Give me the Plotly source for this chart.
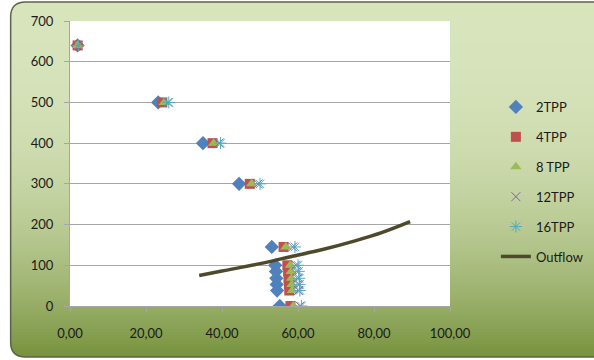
import plotly.graph_objects as go

# ---------------- data ----------------
depth = [640, 500, 400, 300, 145, 100, 85, 68, 53, 38, 0]
tpp2_x = [2.0, 23.2, 35.0, 44.5, 53.1, 54.0, 54.2, 54.3, 54.4, 54.5, 55.2]
tpp4_x = [2.0, 24.3, 37.5, 47.3, 56.2, 57.2, 57.4, 57.5, 57.6, 57.7, 58.0]
tpp8_x = [2.0, 24.8, 37.8, 47.8, 56.8, 58.0, 58.2, 58.3, 58.4, 58.5, 58.8]
tpp12_x = [2.2, 25.8, 39.2, 49.5, 58.6, 59.5, 59.7, 59.9, 60.0, 60.1, 60.5]
tpp16_x = [2.2, 26.0, 39.6, 50.0, 59.2, 60.0, 60.2, 60.3, 60.4, 60.5, 60.9]
outflow_x = [34, 40, 50, 58, 67, 75, 82, 89.5]
outflow_y = [75, 86, 104, 121, 140, 160, 180, 207]
x_ticks = [0, 20, 40, 60, 80, 100]
y_ticks = [0, 100, 200, 300, 400, 500, 600, 700]

# ---------------- geometry (pixels) ----------------
W, H = 594, 360
L, R, T, B = 69.5, 450.5, 21, 306
PW, PH = R - L, B - T


def px(x):
    return (x - L) / PW


def py(y):
    return (B - y) / PH


FONT = "Lato, 'Open Sans', sans-serif"

fig = go.Figure()

series = [
    ("2TPP", tpp2_x, dict(symbol="diamond", size=11, color="#4f81bd")),
    ("4TPP", tpp4_x, dict(symbol="square", size=10, color="#c0504d")),
    ("8 TPP", tpp8_x, dict(symbol="triangle-up", size=10, color="#9bbb59")),
    ("12TPP", tpp12_x, dict(symbol="x-thin-open", size=9, color="#8064a2",
                            line=dict(width=1, color="#8064a2"))),
    ("16TPP", tpp16_x, dict(symbol="asterisk-open", size=10, color="#4bacc6",
                            line=dict(width=1, color="#4bacc6"))),
]
for i, (name, xs, mk) in enumerate(series):
    fig.add_trace(go.Scatter(x=xs, y=depth, mode="markers", name=name,
                             marker=mk, legendgroup=str(i)))

fig.add_trace(go.Scatter(x=outflow_x, y=outflow_y, mode="lines", name="Outflow",
                         line=dict(color="#4d4a2c", width=3.5, shape="spline"),
                         legendgroup="5"))

# ---------------- background gradient + rounded frame ----------------
shapes = []
top_c = (216, 228, 188)
bot_c = (118, 146, 60)
y0p, y1p = 2, 357
step = 3
y = y0p
while y < y1p:
    t = ((y + step / 2 - y0p) / (y1p - y0p)) ** 2.5
    c = tuple(int(round(top_c[k] + (bot_c[k] - top_c[k]) * t)) for k in range(3))
    shapes.append(dict(type="rect", xref="paper", yref="paper", layer="below",
                       x0=px(10), x1=px(610), y0=py(y), y1=py(min(y + step + 0.5, y1p)),
                       fillcolor="rgb(%d,%d,%d)" % c, line=dict(width=0)))
    y += step

r = 15


def P(x, y):
    return "%.5f,%.5f" % (px(x), py(y))


# white fillets outside the rounded corners
shapes.append(dict(type="path", xref="paper", yref="paper", layer="below",
                   path="M %s L %s Q %s %s Z" % (P(9, 1), P(10 + r, 1), P(10, 2), P(9, 2 + r)),
                   fillcolor="white", line=dict(width=0)))
shapes.append(dict(type="path", xref="paper", yref="paper", layer="below",
                   path="M %s L %s Q %s %s Z" % (P(9, 358), P(10 + r, 358), P(10, 357), P(9, 357 - r)),
                   fillcolor="white", line=dict(width=0)))
# plot area white
shapes.append(dict(type="rect", xref="paper", yref="paper", layer="below",
                   x0=0, x1=1, y0=0, y1=1, fillcolor="white", line=dict(width=0)))
# frame
shapes.append(dict(type="path", xref="paper", yref="paper", layer="below",
                   path="M %s L %s Q %s %s L %s Q %s %s L %s" % (
                       P(610, 2), P(10 + r, 2), P(10, 2), P(10, 2 + r),
                       P(10, 357 - r), P(10, 357), P(10 + r, 357), P(610, 357)),
                   line=dict(color="#5f6345", width=1.5)))

fig.update_layout(
    width=W, height=H,
    margin=dict(l=L, r=W - R, t=T, b=H - B, pad=0, autoexpand=False),
    paper_bgcolor="white",
    plot_bgcolor="rgba(0,0,0,0)",
    separators=",.",
    font=dict(family=FONT, size=13, color="#1a1a1a"),
    shapes=shapes,
    showlegend=True,
    legend=dict(x=px(496.5), y=py(92), xanchor="left", yanchor="top",
                bgcolor="rgba(0,0,0,0)", font=dict(size=13, family=FONT),
                tracegroupgap=10, itemsizing="trace"),
    xaxis=dict(range=[0, 100], tickvals=x_ticks, tickformat=".2f",
               showgrid=False, zeroline=False, showline=True, linecolor="#a6a6a6",
               ticks="outside", ticklen=5, tickcolor="#a6a6a6",
               ticklabelstandoff=10, fixedrange=True),
    yaxis=dict(range=[0, 700], tickvals=y_ticks,
               showgrid=True, gridcolor="#a6a6a6", gridwidth=1, zeroline=False,
               showline=True, linecolor="#a6a6a6",
               ticks="outside", ticklen=5, tickcolor="#a6a6a6",
               ticklabelstandoff=8, fixedrange=True),
)

fig.write_html("out.html", config={"displayModeBar": False},
               post_script="document.body.style.margin='0';document.body.style.overflow='hidden';")
